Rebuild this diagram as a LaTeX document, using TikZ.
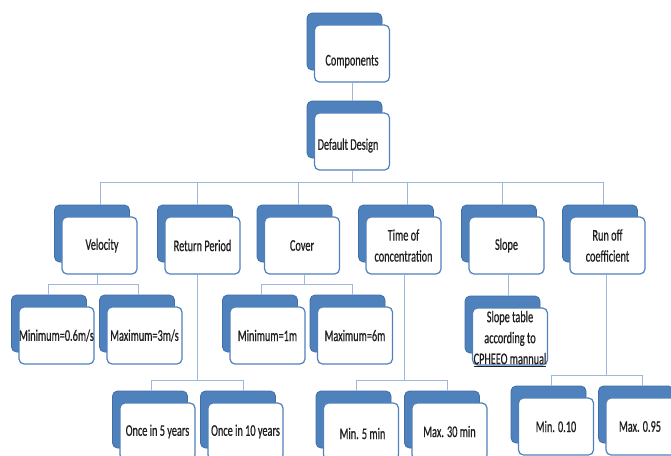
\documentclass[tikz,border=0pt]{standalone}
\usepackage{fontspec}
\setmainfont[FakeStretch=0.63,FakeBold=0.6]{Carlito}
\definecolor{accent}{HTML}{4F81BD}
\definecolor{accentdark}{HTML}{3F6FA6}
\definecolor{connc}{HTML}{9DB8DA}
\newcommand{\dn}[2]{\raisebox{-#1pt}[\height][\depth]{#2}}
\newcommand{\ulthick}[1]{\setbox0\hbox{#1}\rlap{\rule[-3pt]{\wd0}{1.5pt}}\box0}
\tikzset{
  backbox/.style={draw=accentdark, fill=accent, line width=0.8pt, rounded corners=5pt,
    minimum width=75pt, minimum height=57pt, inner sep=0pt},
  frontbox/.style={draw=accent, fill=white, line width=1.2pt, rounded corners=5pt,
    minimum width=75pt, minimum height=57pt, inner sep=0pt, align=center,
    font=\fontsize{16.3}{21}\selectfont, text=black!88},
  txt/.style={align=center, inner sep=0pt, font=\fontsize{16.3}{21}\selectfont, text=black!88},
  conn/.style={draw=connc, line width=0.9pt}
}
\newcommand{\card}[4]{%
  \node[backbox] (#1b) at ({#2-7.5},{#3-12}) {};
  \node[frontbox] (#1) at (#2,#3) {#4};}
\begin{document}
\begin{tikzpicture}[x=1pt,y=-1pt]
\clip (0,0) rectangle (671,455);
\fill[white] (0,0) rectangle (671,455);
% top
\card{comp}{352}{53.5}{\dn{8}{Components}}
\card{dd}{352}{141.5}{\dn{4}{\hspace*{-8pt}Default Design}}
% level 2
\card{v}{99.5}{245.5}{\hspace*{5pt}Velocity}
\card{rp}{202.5}{245.5}{Return Period}
\card{cv}{302}{245.5}{Cover}
\card{tc}{403.5}{245.5}{Time of\\concentration}
\card{sl}{506.5}{245.5}{Slope}
\card{ro}{607.5}{245.5}{Run off\\coefficient}
% level 3
\card{vmin}{56.5}{335.5}{Minimum=0.6m/s}
\card{vmax}{144.5}{335.5}{Maximum=3m/s}
\card{cmin}{267.5}{335.5}{Minimum=1m}
\card{cmax}{355}{335.5}{Maximum=6m}
\card{st}{510}{336.5}{}
\node[txt] (stT) at (510,339) {Slope table\\according to\\\ulthick{CPHEEO mannual}};
% level 4
\card{r5}{157.5}{431.5}{Once in 5 years}
\card{r10}{245.5}{431.5}{Once in 10 years}
\card{t5}{361}{431.5}{\dn{2}{\hspace*{3pt}Min. 5 min}}
\card{t30}{449.5}{431.5}{Max. 30 min}
\card{r010}{556}{426.5}{Min. 0.10}
\card{r095}{643.5}{426.5}{\hspace*{-7pt}Max. 0.95}
% connectors
\draw[conn] (comp.south) -- (comp.south |- ddb.north);
\coordinate (bus1) at (352,182);
\draw[conn] (dd.south) -- (bus1);
\foreach \n/\s in {v/8, rp/2, cv/3.5, tc/11, sl/3, ro/3}
  \draw[conn] (bus1) -| ([xshift=\s pt]\n b.north);
% velocity
\coordinate (busv) at (97,284);
\draw[conn] ([xshift=-2.5pt]v.south) -- (busv);
\draw[conn] (busv) -| ([xshift=-1pt]vminb.north);
\draw[conn] (busv) -| ([xshift=1pt]vmaxb.north);
% cover
\coordinate (busc) at (304,284);
\draw[conn] ([xshift=2pt]cv.south) -- (busc);
\draw[conn] (busc) -| ([xshift=1.5pt]cminb.north);
\draw[conn] (busc) -| ([xshift=4.5pt]cmaxb.north);
% slope
\draw[conn] ([xshift=1.5pt]sl.south) -- ([xshift=1.5pt]sl.south |- stb.north);
% return period
\coordinate (busr) at (197,380);
\draw[conn] ([xshift=-5.5pt]rp.south) -- (busr);
\draw[conn] (busr) -| ([xshift=1pt]r5b.north);
\draw[conn] (busr) -| ([xshift=5pt]r10b.north);
% time of concentration
\coordinate (bust) at (404,380);
\draw[conn] ([xshift=0.5pt]tc.south) -- (bust);
\draw[conn] (bust) -| ([xshift=2.5pt]t5b.north);
\draw[conn] (bust) -| ([xshift=5pt]t30b.north);
% run off
\coordinate (busro) at (606,375);
\draw[conn] ([xshift=-1.5pt]ro.south) -- (busro);
\draw[conn] (busro) -| ([xshift=2.5pt]r010b.north);
\draw[conn] (busro) -| ([xshift=6pt]r095b.north);
\end{tikzpicture}
\end{document}
